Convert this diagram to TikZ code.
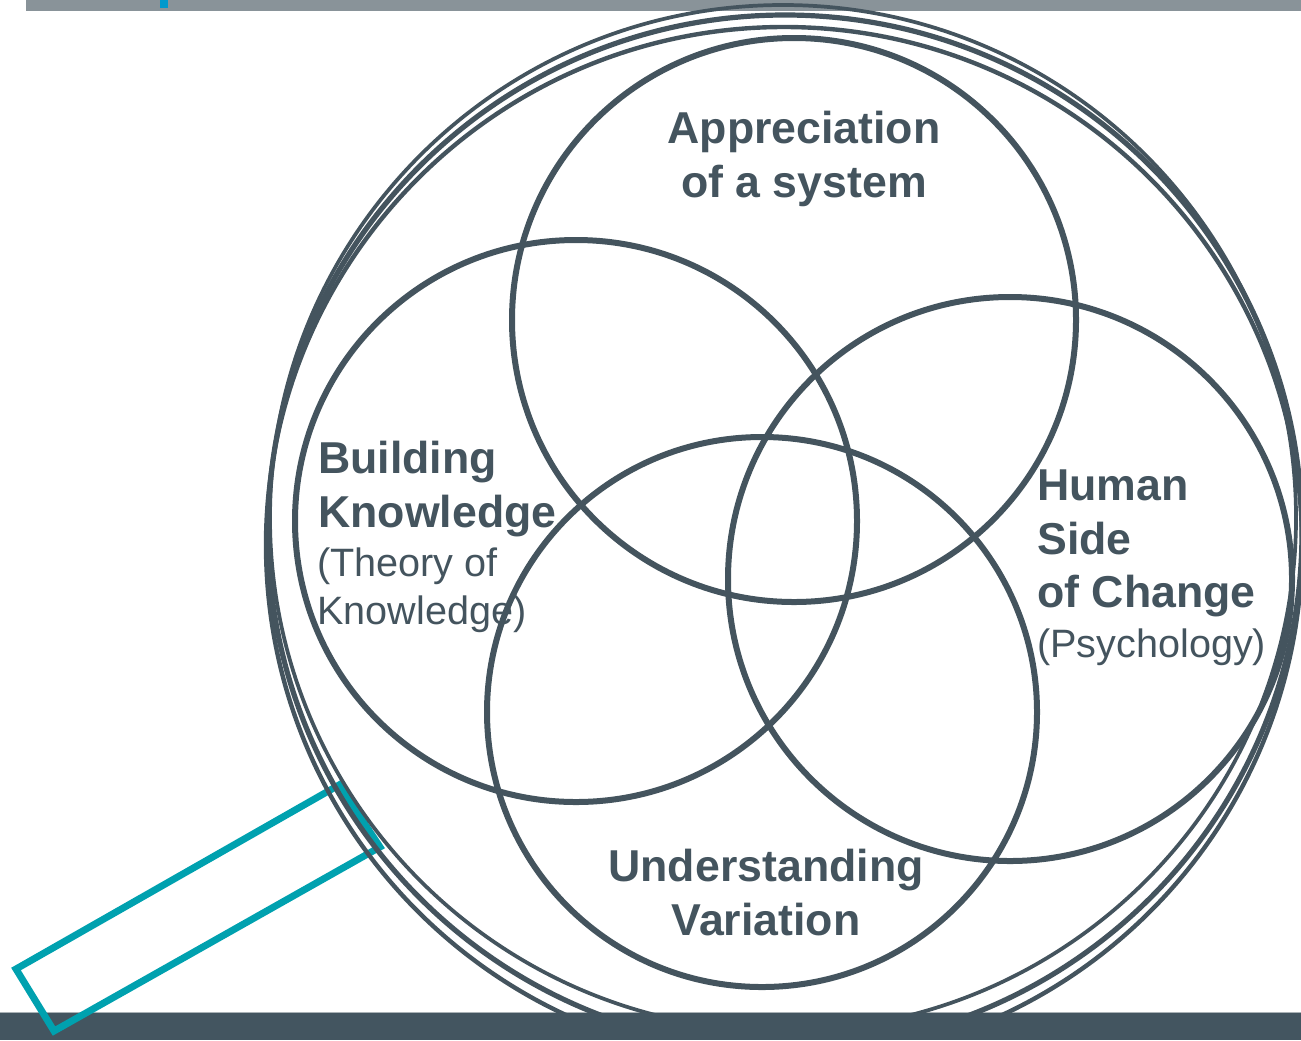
\documentclass[tikz,border=0pt]{standalone}
\usepackage{fontspec}
\setmainfont{Liberation Sans}
\definecolor{slate}{RGB}{68,84,94}
\definecolor{handleteal}{RGB}{0,161,175}
\definecolor{bargray}{RGB}{137,147,153}
\definecolor{barblue}{RGB}{0,153,204}
\definecolor{bardark}{RGB}{67,85,96}
\definecolor{barline}{RGB}{170,178,182}
\begin{document}
\begin{tikzpicture}[x=0.75pt,y=-0.75pt,
  venn/.style={draw=slate,line width=4.5pt},
  rimline/.style={draw=slate},
  boldtxt/.style={font=\fontsize{33.5}{40}\selectfont\bfseries,text=slate,inner sep=0pt},
  regtxt/.style={font=\fontsize{29.7}{36}\selectfont,text=slate,inner sep=0pt},
  handlebox/.style={draw=handleteal,line width=5.2pt,line join=miter}]
\useasboundingbox (0,0) rectangle (1301,1040);
% top bar
\fill[bargray] (26,0) rectangle (1301,11);
\fill[barblue] (160,0) rectangle (168,7.5);
% bottom bar
\fill[bardark] (0,1013) rectangle (1301,1040);
\draw[barline,line width=1pt] (0,1012.5) -- (1301,1012.5);
% handle
\coordinate (hA) at (16,969);
\coordinate (hB) at (54,1031);
\coordinate (hC) at (380,847);
\coordinate (hD) at (339,785);
\draw[handlebox] (hA) -- (hB) -- (hC) -- (hD) -- cycle;
% lens rim
\begin{scope}
\clip (0,0) rectangle (1301,1012);
\draw[rimline,line width=2.8pt] (783,518) circle[radius=513];
\draw[rimline,line width=3.9pt] (785,532) circle[radius=517];
\draw[rimline,line width=3.3pt] (784,545) circle[radius=518];
\end{scope}
% venn circles
\coordinate (cApp) at (794,320);
\coordinate (cBld) at (576,521);
\coordinate (cHum) at (1010,579);
\coordinate (cUnd) at (762,712);
\draw[venn] (cApp) circle[radius=282];
\draw[venn] (cBld) circle[radius=281];
\draw[venn] (cHum) circle[radius=282];
\draw[venn] (cUnd) circle[radius=275];
% texts
\node[boldtxt,anchor=base] (t1) at (804,143) {Appreciation};
\node[boldtxt,anchor=base] (t2) at (804,197) {of a system};
\node[boldtxt,anchor=base west] (t3) at (318,473) {Building};
\node[boldtxt,anchor=base west] (t4) at (318,527) {Knowledge};
\node[regtxt,anchor=base west] (t5) at (317,576) {(Theory of};
\node[regtxt,anchor=base west] (t6) at (317,624) {Knowledge)};
\node[boldtxt,anchor=base west] (t7) at (1037,500) {Human};
\node[boldtxt,anchor=base west] (t8) at (1037,554) {Side};
\node[boldtxt,anchor=base west] (t9) at (1037,607) {of Change};
\node[regtxt,anchor=base west] (t10) at (1037,657) {(Psychology)};
\node[boldtxt,anchor=base] (t11) at (766,881) {Understanding};
\node[boldtxt,anchor=base] (t12) at (766,935) {Variation};
\end{tikzpicture}
\end{document}
